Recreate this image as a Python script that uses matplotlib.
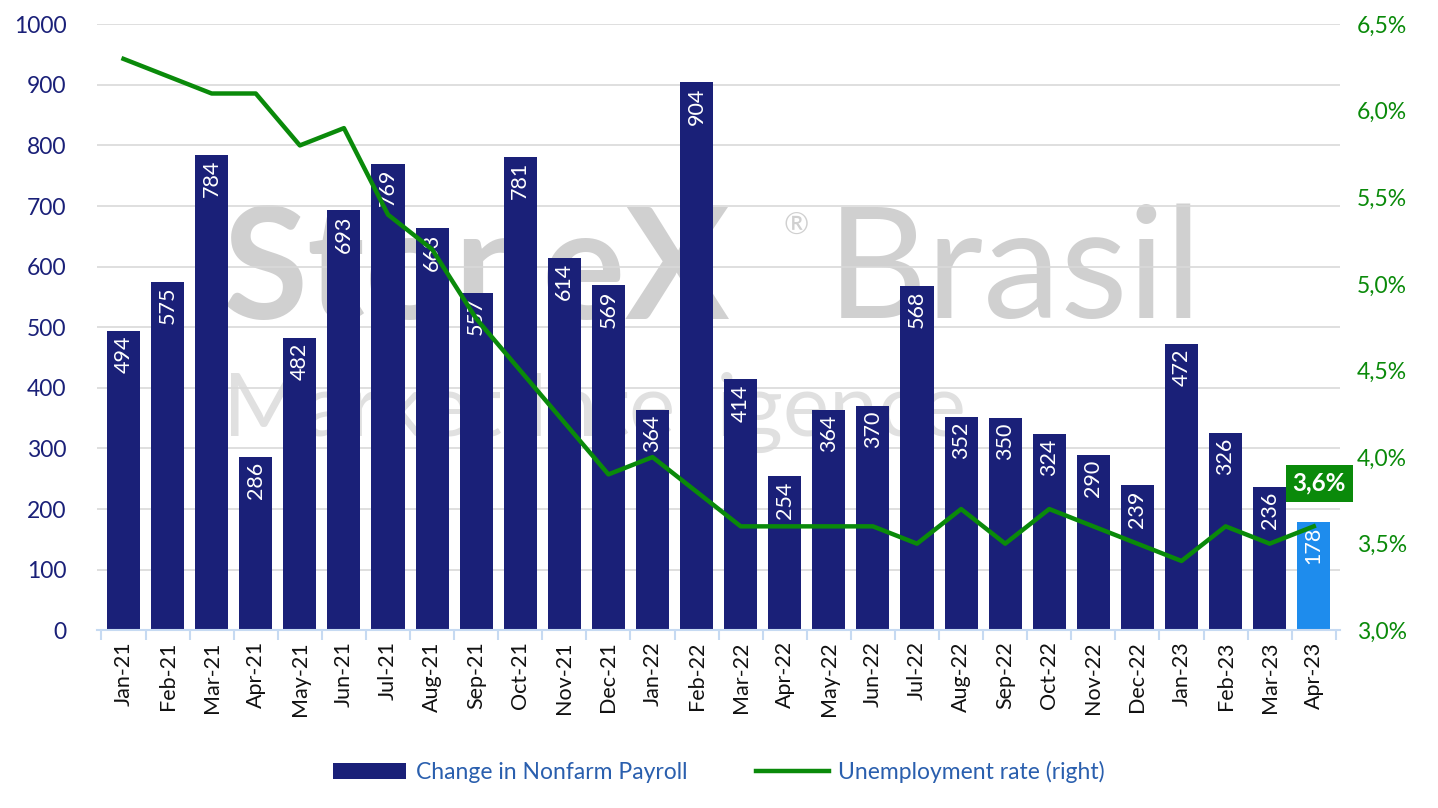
import matplotlib
matplotlib.use("Agg")
import matplotlib.pyplot as plt
import numpy as np

# Data
months = ["Jan-21", "Feb-21", "Mar-21", "Apr-21", "May-21", "Jun-21", "Jul-21",
          "Aug-21", "Sep-21", "Oct-21", "Nov-21", "Dec-21", "Jan-22", "Feb-22",
          "Mar-22", "Apr-22", "May-22", "Jun-22", "Jul-22", "Aug-22", "Sep-22",
          "Oct-22", "Nov-22", "Dec-22", "Jan-23", "Feb-23", "Mar-23", "Apr-23"]
payroll = [494, 575, 784, 286, 482, 693, 769, 663, 557, 781, 614, 569, 364, 904,
           414, 254, 364, 370, 568, 352, 350, 324, 290, 239, 472, 326, 236, 178]
unemployment = [6.3, 6.2, 6.1, 6.1, 5.8, 5.9, 5.4, 5.2, 4.8, 4.5, 4.2, 3.9, 4.0, 3.8,
                3.6, 3.6, 3.6, 3.6, 3.5, 3.7, 3.5, 3.7, 3.6, 3.5, 3.4, 3.6, 3.5, 3.6]

NAVY = "#1a2078"
LIGHT_BLUE = "#1e8ced"
GREEN = "#0a8a0a"
AXIS_BLUE = "#c6daf2"

plt.rcParams['font.family'] = ['Lato', 'DejaVu Sans']

fig = plt.figure(figsize=(14.38, 8.08), dpi=100)
ax = fig.add_axes([0.0675, 0.22, 0.8645, 0.75])
ax.set_facecolor("none")

# watermark
fig.text(0.155, 0.66, "StoneX", fontsize=112, color="#d0d0d0", zorder=-1,
         fontweight="bold", va="center")
fig.text(0.545, 0.72, "®", fontsize=22, color="#d0d0d0", zorder=-1, va="center")
fig.text(0.575, 0.66, "Brasil", fontsize=112, color="#d0d0d0", zorder=-1, va="center")
fig.text(0.155, 0.49, "Market Intelligence", fontsize=63, color="#e0e0e0",
         zorder=-1, va="center")

x = np.arange(len(months))
colors = [NAVY] * (len(months) - 1) + [LIGHT_BLUE]
bars = ax.bar(x, payroll, width=0.75, color=colors, zorder=2,
              label="Change in Nonfarm Payroll")

for xi, v in zip(x, payroll):
    ax.text(xi, v - 8, str(v), rotation=90, ha="center", va="top",
            color="white", fontsize=15.5, zorder=3)

ax.set_ylim(0, 1000)
ax.set_xlim(-0.6, len(months) - 0.4)
ax.set_yticks(np.arange(0, 1001, 100))
ax.tick_params(axis="y", length=0, labelsize=16.5, labelcolor=NAVY, pad=22)
ax.yaxis.grid(True, color="#d9d9d9", linewidth=1.2, zorder=0)
ax.set_axisbelow(True)

ax.set_xticks(x)
ax.set_xticklabels(months, rotation=90, fontsize=15.5, color="#111111")
ax.set_xticks(np.arange(-0.5, len(months), 1), minor=True)
ax.tick_params(axis="x", which="major", length=0, pad=8)
ax.tick_params(axis="x", which="minor", length=7, color=AXIS_BLUE, width=1.5)

for s in ["top", "right", "left"]:
    ax.spines[s].set_visible(False)
ax.spines["bottom"].set_color(AXIS_BLUE)
ax.spines["bottom"].set_linewidth(1.5)

ax2 = ax.twinx()
line, = ax2.plot(x, unemployment, color=GREEN, linewidth=3.2, zorder=4,
                 label="Unemployment rate (right)")
ax2.set_ylim(3.0, 6.5)
ax2.set_yticks(np.arange(3.0, 6.51, 0.5))
ax2.set_yticklabels([f"{t:.1f}%".replace(".", ",") for t in np.arange(3.0, 6.51, 0.5)])
ax2.tick_params(axis="y", length=0, labelsize=16.5, labelcolor=GREEN, pad=12)
for s in ax2.spines.values():
    s.set_visible(False)

# last value callout
last = len(months) - 1
ax2.annotate(f"{unemployment[-1]:.1f}%".replace(".", ","), xy=(x[last], unemployment[-1]),
             xytext=(4, 31), textcoords="offset points", ha="center", va="center",
             fontsize=17.5, fontweight="bold", color="white",
             bbox=dict(boxstyle="square,pad=0.28", fc=GREEN, ec="none"))

leg = fig.legend(handles=[bars, line], loc="lower center", bbox_to_anchor=(0.5, 0.005),
                 ncol=2, frameon=False, fontsize=16.5, handlelength=3.2,
                 columnspacing=3, handletextpad=0.4)
for t in leg.get_texts():
    t.set_color("#2a5fae")

fig.savefig("out.png", dpi=100)
